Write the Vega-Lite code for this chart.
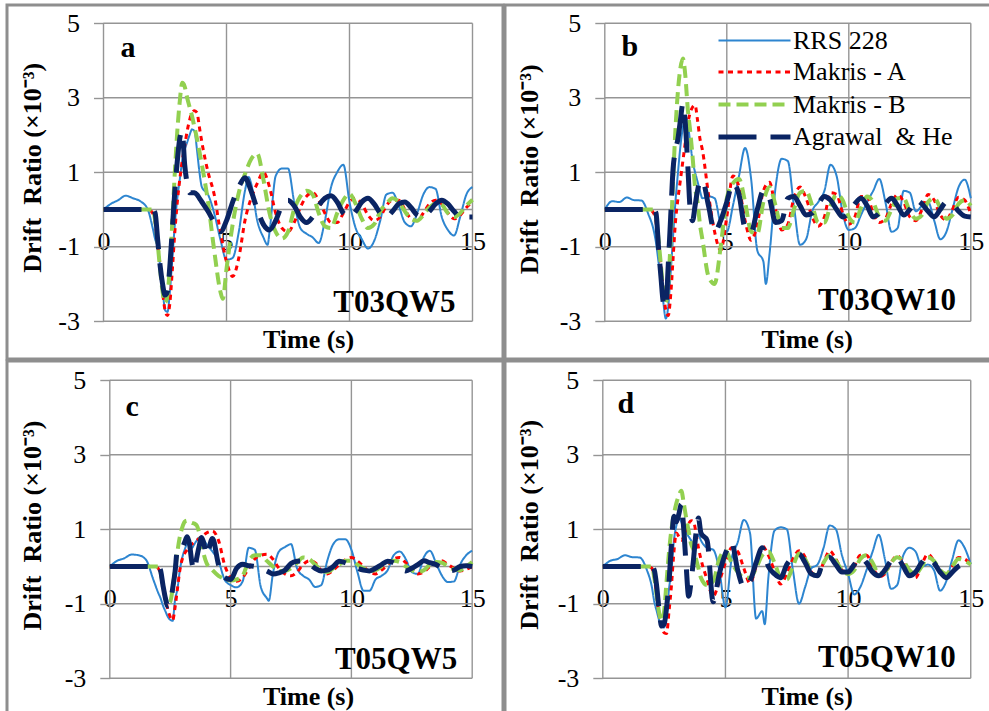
{
"$schema":"https://vega.github.io/schema/vega-lite/v6.json",
"background":"#ffffff",
"padding":{"left":5,"top":3,"right":0,"bottom":0},
"autosize":{"type":"pad"},
"columns":2,
"align":"each",
"spacing":-3,
"config":{
"view":{"stroke":null},
"axis":{"labelFont":"Liberation Serif, Times New Roman, serif","labelFontSize":26,"labelColor":"#000","titleFont":"Liberation Serif, Times New Roman, serif","titleFontSize":26,"titleFontWeight":"bold","titleColor":"#000","grid":false,"domain":false},
"axisX":{"ticks":false,"tickSize":0,"labelBaseline":"middle","labelPadding":32.5,"labelFlush":false,"labelOverlap":false,"titleAlign":"center","titleBaseline":"alphabetic","titleAngle":0},
"axisY":{"ticks":true,"tickSize":10,"tickColor":"#959595","tickWidth":1.4,"labelPadding":14,"labelBaseline":"middle","labelAlign":"right","labelOverlap":false,"titleAngle":-90,"titleAlign":"center","titleBaseline":"middle"}
},
"datasets":{
"a":[
{"t":0,"R":0,"A":0,"B":0,"G":0},{"t":0.3,"R":0.15,"A":0,"B":0,"G":0},{"t":0.6,"R":0.25,"A":0,"B":0,"G":0},{"t":0.9,"R":0.37,"A":0,"B":0,"G":0},{"t":1.2,"R":0.3,"A":0,"B":0,"G":0},{"t":1.5,"R":0.22,"A":0,"B":0,"G":0},{"t":1.8,"R":0,"A":0,"B":0,"G":0},
{"t":2,"R":-0.5,"A":-0.1,"B":0,"G":0},{"t":2.1,"R":-0.8,"A":-0.35,"B":-0.3,"G":-0.1},{"t":2.2,"R":-1,"A":-0.9,"B":-0.9,"G":-0.8},{"t":2.3,"R":-1.5,"A":-1.5,"B":-1.6,"G":-1.5},{"t":2.4,"R":-2.1,"A":-2.2,"B":-2.2,"G":-2},{"t":2.5,"R":-2.7,"A":-2.7,"B":-2.5,"G":-2.3},{"t":2.6,"R":-2.75,"A":-2.85,"B":-2.3,"G":-2.2},{"t":2.7,"R":-2.2,"A":-2.5,"B":-1.5,"G":-1.5},{"t":2.8,"R":-1.3,"A":-1.6,"B":-0.3,"G":-0.5},{"t":2.9,"R":-0.4,"A":-0.6,"B":1,"G":0.5},
{"t":3,"R":0.3,"A":0.2,"B":2.1,"G":1.3},{"t":3.1,"R":0.8,"A":0.8,"B":2.9,"G":1.9},{"t":3.2,"R":1.3,"A":1.3,"B":3.4,"G":2.1},{"t":3.3,"R":1.6,"A":1.7,"B":3.3,"G":1.2},{"t":3.4,"R":1.8,"A":2.1,"B":3,"G":0.7},{"t":3.5,"R":2,"A":2.4,"B":2.75,"G":0.45},{"t":3.6,"R":2.15,"A":2.6,"B":2.5,"G":0.45},{"t":3.7,"R":2.1,"A":2.65,"B":2.2,"G":0.45},{"t":3.8,"R":1.6,"A":2.6,"B":1.9,"G":0.4},{"t":3.9,"R":1,"A":2.2,"B":1.55,"G":0.3},
{"t":4,"R":0.6,"A":1.8,"B":1.2,"G":0.2},{"t":4.25,"R":0.4,"A":1,"B":0.2,"G":-0.05},{"t":4.5,"R":-0.1,"A":0.4,"B":-1.1,"G":-0.35},{"t":4.75,"R":-0.8,"A":-0.6,"B":-2.2,"G":-0.6},{"t":4.85,"B":-2.4},{"t":5,"R":-1.35,"A":-1.4,"B":-1.6,"G":-0.3},{"t":5.25,"R":-1.3,"A":-1.8,"B":-0.4,"G":0.2},{"t":5.5,"R":-0.6,"A":-1.3,"B":0.45,"G":0.6},{"t":5.75,"R":0.5,"A":-0.3,"B":0.95,"G":0.85},{"t":5.9,"R":0.87},
{"t":6,"R":0.7,"A":0.3,"B":1.35,"G":0.5},{"t":6.25,"R":-0.3,"A":0.7,"B":1.5,"G":0},{"t":6.5,"R":-0.75,"A":1,"B":0.8,"G":-0.4},{"t":6.67,"R":-0.95},{"t":6.75,"R":-0.6,"A":0.6,"B":-0.1,"G":-0.55},{"t":7,"R":0.9,"A":-0.1,"B":-0.6,"G":-0.3},{"t":7.25,"R":1.1,"A":-0.5,"B":-0.78,"G":0.1},{"t":7.5,"R":1.1,"A":-0.6,"B":-0.6,"G":0.25},{"t":7.75,"R":0.2,"A":-0.35,"B":0,"G":0.1},
{"t":8,"R":-0.5,"A":0.05,"B":0.35,"G":-0.2},{"t":8.25,"R":-0.65,"A":0.35,"B":0.5,"G":-0.35},{"t":8.5,"R":-0.75,"A":0.45,"B":0.4,"G":-0.2},{"t":8.75,"R":-0.9,"A":0.25,"B":-0.1,"G":0.1},{"t":9,"R":-0.3,"A":-0.1,"B":-0.45,"G":0.3},{"t":9.25,"R":0.6,"A":-0.35,"B":-0.5,"G":0.37},{"t":9.5,"R":1,"A":-0.35,"B":-0.1,"G":0.2},{"t":9.75,"R":1.2,"A":-0.1,"B":0.25,"G":-0.1},
{"t":10,"R":0.2,"A":0.2,"B":0.42,"G":-0.2},{"t":10.25,"R":-0.5,"A":0.3,"B":0.15,"G":-0.05},{"t":10.5,"R":-0.8,"A":0.15,"B":-0.25,"G":0.2},{"t":10.75,"R":-1.05,"A":-0.15,"B":-0.5,"G":0.3},{"t":11,"R":-0.85,"A":-0.3,"B":-0.4,"G":0.15},{"t":11.25,"R":-0.3,"A":-0.2,"B":-0.05,"G":-0.1},{"t":11.5,"R":0.4,"A":0.1,"B":0.15,"G":-0.2},{"t":11.75,"R":0.45,"A":0.25,"B":0.3,"G":-0.05},
{"t":12,"R":0.1,"A":0.25,"B":0.2,"G":0.15},{"t":12.25,"R":-0.35,"A":0,"B":-0.05,"G":0.2},{"t":12.5,"R":-0.45,"A":-0.25,"B":-0.25,"G":0.05},{"t":12.75,"R":-0.1,"A":-0.3,"B":-0.3,"G":-0.15},{"t":13,"R":0.4,"A":-0.1,"B":-0.15,"G":-0.2},{"t":13.25,"R":0.6,"A":0.15,"B":0.05,"G":-0.05},{"t":13.5,"R":0.55,"A":0.25,"B":0.15,"G":0.15},{"t":13.75,"R":-0.2,"A":0.15,"B":0.12,"G":0.25},
{"t":14,"R":-0.55,"A":-0.1,"B":-0.1,"G":0.15},{"t":14.25,"R":-0.7,"A":-0.25,"B":-0.2,"G":-0.05},{"t":14.5,"R":-0.2,"A":-0.15,"B":-0.1,"G":-0.2},{"t":14.75,"R":0.4,"A":0.05,"B":0.1,"G":-0.2},{"t":15,"R":0.6,"A":0.2,"B":0.26,"G":-0.2}
],
"b":[
{"t":0,"R":0,"A":0,"B":0,"G":0},{"t":0.3,"R":0.22,"A":0,"B":0,"G":0},{"t":0.6,"R":0.2,"A":0,"B":0,"G":0},{"t":0.9,"R":0.32,"A":0,"B":0,"G":0},{"t":1.2,"R":0.25,"A":0,"B":0,"G":0},{"t":1.5,"R":0.24,"A":0,"B":0,"G":0},{"t":1.8,"R":-0.15,"A":0,"B":0,"G":0},
{"t":2,"R":-0.55,"A":-0.1,"B":0,"G":0},{"t":2.1,"R":-0.9,"A":-0.35,"B":-0.2,"G":-0.1},{"t":2.2,"R":-1.4,"A":-0.9,"B":-0.8,"G":-1},{"t":2.3,"R":-1.9,"A":-1.5,"B":-1.5,"G":-1.8},{"t":2.4,"R":-2.5,"A":-2.2,"B":-2.2,"G":-2.5},{"t":2.5,"R":-2.93,"A":-2.7,"B":-2.5,"G":-2.62},{"t":2.6,"R":-2.6,"A":-2.85,"B":-2,"G":-1.5},{"t":2.7,"R":-1.7,"A":-2.3,"B":-0.8,"G":-0.2},{"t":2.8,"R":-0.7,"A":-1.3,"B":0.8,"G":1.1},{"t":2.9,"R":0.24,"A":-0.3,"B":2.2,"G":1.6},
{"t":3,"R":1,"A":0.3,"B":3.2,"G":1.9},{"t":3.1,"R":1.7,"A":0.8,"B":3.8,"G":2.4},{"t":3.2,"R":2.2,"A":1.3,"B":4.05,"G":2.84},{"t":3.3,"R":2.5,"A":1.8,"B":3.6,"G":2.3},{"t":3.4,"R":2.3,"A":2.3,"B":2.7,"G":1.2},{"t":3.5,"R":1.8,"A":2.6,"B":2.1,"G":0},{"t":3.6,"R":1.3,"A":2.75,"B":1.4,"G":-0.3},{"t":3.7,"R":1,"A":2.8,"B":0.6,"G":0.1},{"t":3.8,"R":0.75,"A":2.4,"B":0.2,"G":0.5},{"t":3.9,"R":0.5,"A":1.9,"B":-0.4,"G":0.75},
{"t":4,"R":0.3,"A":1.6,"B":-0.8,"G":0.78},{"t":4.25,"R":0.35,"A":0.4,"B":-1.8,"G":0.1},{"t":4.5,"R":0.3,"A":-0.6,"B":-2,"G":-0.6},{"t":4.75,"R":-0.4,"A":-1.1,"B":-1,"G":-0.3},{"t":5,"R":-0.6,"A":-0.2,"B":0.3,"G":0.2},{"t":5.25,"R":0.1,"A":0.9,"B":0.7,"G":0.7},{"t":5.5,"R":0.9,"A":0.6,"B":0.82,"G":0.4},{"t":5.75,"R":1.65,"A":-0.3,"B":0.2,"G":-0.5},
{"t":6,"R":0.8,"A":-0.83,"B":-0.6,"G":-0.6},{"t":6.25,"R":-1.1,"A":-0.4,"B":-0.65,"G":0},{"t":6.5,"R":-1.4,"A":0.5,"B":0.2,"G":0.5},{"t":6.6,"R":-2},{"t":6.75,"R":-1.2,"A":0.73,"B":0.6,"G":0.3},{"t":7,"R":0.6,"A":0,"B":0.1,"G":-0.35},{"t":7.25,"R":1.36,"A":-0.55,"B":-0.5,"G":-0.3},{"t":7.5,"R":1.3,"A":-0.4,"B":-0.5,"G":0.3},{"t":7.75,"R":0.1,"A":0.3,"B":0,"G":0.35},
{"t":8,"R":-0.95,"A":0.6,"B":0.45,"G":0.1},{"t":8.25,"R":-0.8,"A":0.3,"B":0.5,"G":-0.15},{"t":8.5,"R":-0.05,"A":-0.2,"B":0.1,"G":-0.1},{"t":8.75,"R":0.2,"A":-0.45,"B":-0.35,"G":0.15},{"t":9,"R":0.5,"A":-0.2,"B":-0.35,"G":0.35},{"t":9.25,"R":1.2,"A":0.45,"B":0.1,"G":0.25},{"t":9.5,"R":0.9,"A":0.4,"B":0.4,"G":0},{"t":9.75,"R":-0.1,"A":-0.1,"B":0.25,"G":-0.2},
{"t":10,"R":-0.55,"A":-0.4,"B":-0.2,"G":-0.1},{"t":10.25,"R":-0.5,"A":-0.2,"B":-0.35,"G":0.15},{"t":10.5,"R":-0.15,"A":0.35,"B":0.05,"G":0.3},{"t":10.75,"R":0.2,"A":0.35,"B":0.35,"G":0.1},{"t":11,"R":0.5,"A":-0.1,"B":0.2,"G":-0.2},{"t":11.25,"R":0.82,"A":-0.35,"B":-0.2,"G":-0.1},{"t":11.5,"R":0.2,"A":-0.25,"B":-0.3,"G":0.15},{"t":11.75,"R":-0.6,"A":0.15,"B":0,"G":0.3},
{"t":12,"R":-0.5,"A":0.4,"B":0.3,"G":0.1},{"t":12.25,"R":0.5,"A":0.2,"B":0.3,"G":-0.15},{"t":12.5,"R":0.45,"A":-0.2,"B":-0.05,"G":0},{"t":12.75,"R":-0.05,"A":-0.3,"B":-0.25,"G":0.25},{"t":13,"R":0.1,"A":0,"B":-0.15,"G":0.15},{"t":13.25,"R":0.2,"A":0.4,"B":0.2,"G":-0.05},{"t":13.5,"R":-0.3,"A":0.25,"B":0.3,"G":-0.2},{"t":13.75,"R":-0.8,"A":-0.15,"B":0.05,"G":0},
{"t":14,"R":-0.6,"A":-0.28,"B":-0.25,"G":0.2},{"t":14.25,"R":0,"A":0,"B":-0.15,"G":0.15},{"t":14.5,"R":0.6,"A":0.33,"B":0.15,"G":-0.05},{"t":14.75,"R":0.8,"A":0.25,"B":0.25,"G":-0.18},{"t":15,"R":0.3,"A":-0.12,"B":0.1,"G":-0.2}
],
"c":[
{"t":0,"R":0,"A":0,"B":0,"G":0},{"t":0.3,"R":0.15,"A":0,"B":0,"G":0},{"t":0.6,"R":0.22,"A":0,"B":0,"G":0},{"t":0.9,"R":0.32,"A":0,"B":0,"G":0},{"t":1.2,"R":0.3,"A":0,"B":0,"G":0},{"t":1.5,"R":0.18,"A":0,"B":0,"G":0},{"t":1.8,"R":-0.35,"A":0,"B":0,"G":0},
{"t":2,"R":-0.7,"A":-0.05,"B":0,"G":0},{"t":2.1,"R":-0.85,"A":-0.2,"B":-0.15,"G":-0.1},{"t":2.2,"R":-1.05,"A":-0.5,"B":-0.5,"G":-0.5},{"t":2.3,"R":-1.2,"A":-0.85,"B":-0.85,"G":-0.85},{"t":2.4,"R":-1.35,"A":-1.15,"B":-1,"G":-1.06},{"t":2.5,"R":-1.43,"A":-1.35,"B":-0.95,"G":-1},{"t":2.6,"R":-1.46,"A":-1.45,"B":-0.6,"G":-0.6},{"t":2.7,"R":-0.9,"A":-1.1,"B":-0.1,"G":-0.15},{"t":2.8,"R":-0.6,"A":-0.6,"B":0.4,"G":0.45},{"t":2.9,"R":-0.1,"A":-0.1,"B":0.8,"G":0.45},
{"t":3,"R":0.24,"A":0.2,"B":1.05,"G":0.5},{"t":3.1,"R":0.45,"A":0.35,"B":1.2,"G":0.65},{"t":3.2,"R":0.6,"A":0.45,"B":1.23,"G":0.8},{"t":3.3,"R":0.55,"A":0.55,"B":1.2,"G":0.6},{"t":3.4,"R":0.5,"A":0.6,"B":1.17,"G":0.1},{"t":3.5,"R":0.6,"A":0.65,"B":1.15,"G":-0.1},{"t":3.6,"R":0.7,"A":0.7,"B":1.1,"G":0.24},{"t":3.7,"R":0.78,"A":0.75,"B":0.9,"G":0.55},{"t":3.8,"R":0.75,"A":0.8,"B":0.6,"G":0.78},{"t":3.9,"R":0.7,"A":0.85,"B":0.3,"G":0.6},
{"t":4,"R":0.6,"A":0.9,"B":0.1,"G":0.3},{"t":4.25,"R":0.4,"A":0.95,"B":-0.1,"G":0.75},{"t":4.5,"R":0.15,"A":0.7,"B":-0.25,"G":0.05},{"t":4.75,"R":-0.35,"A":0.05,"B":-0.33,"G":-0.3},{"t":5,"R":-0.5,"A":-0.3,"B":-0.38,"G":-0.35},{"t":5.25,"R":-0.56,"A":-0.4,"B":-0.35,"G":-0.05},{"t":5.5,"R":-0.4,"A":-0.3,"B":-0.25,"G":0.06},{"t":5.75,"R":0.5,"A":-0.05,"B":0.15,"G":0.02},
{"t":6,"R":0.45,"A":0.2,"B":0.3,"G":0},{"t":6.25,"R":-0.55,"A":0.3,"B":0.3,"G":-0.05},{"t":6.5,"R":-0.85,"A":0.33,"B":0.15,"G":-0.12},{"t":6.58,"R":-0.92},{"t":6.75,"R":-0.2,"A":0.2,"B":0,"G":-0.2},{"t":7,"R":0.4,"A":-0.05,"B":-0.12,"G":-0.17},{"t":7.25,"R":0.52,"A":-0.2,"B":-0.12,"G":-0.1},{"t":7.5,"R":0.6,"A":-0.25,"B":-0.05,"G":0.08},{"t":7.75,"R":-0.05,"A":-0.15,"B":0.1,"G":0.14},
{"t":8,"R":-0.25,"A":0.05,"B":0.24,"G":0.15},{"t":8.25,"R":-0.35,"A":0.15,"B":0.2,"G":0.08},{"t":8.5,"R":-0.55,"A":0.1,"B":0.05,"G":-0.05},{"t":8.75,"R":-0.5,"A":-0.1,"B":-0.1,"G":-0.12},{"t":9,"R":0.15,"A":-0.2,"B":-0.15,"G":-0.1},{"t":9.25,"R":0.6,"A":-0.1,"B":-0.05,"G":0},{"t":9.5,"R":0.73,"A":0.05,"B":0.05,"G":0.14},{"t":9.75,"R":0.73,"A":0.18,"B":0.15,"G":0.1},
{"t":10,"R":0.45,"A":0.24,"B":0.15,"G":0.02},{"t":10.25,"R":-0.15,"A":0.15,"B":0.05,"G":-0.05},{"t":10.5,"R":-0.65,"A":0,"B":-0.05,"G":-0.1},{"t":10.75,"R":-0.65,"A":-0.15,"B":-0.12,"G":-0.12},{"t":11,"R":-0.35,"A":-0.2,"B":-0.1,"G":-0.05},{"t":11.25,"R":-0.25,"A":-0.1,"B":0,"G":0.05},{"t":11.5,"R":-0.1,"A":0.05,"B":0.1,"G":0.14},{"t":11.75,"R":0.3,"A":0.2,"B":0.15,"G":0.1},
{"t":12,"R":0.4,"A":0.24,"B":0.12,"G":-0.02},{"t":12.25,"R":0.2,"A":0.1,"B":0,"G":-0.12},{"t":12.5,"R":-0.15,"A":-0.05,"B":-0.1,"G":-0.05},{"t":12.75,"R":-0.2,"A":-0.2,"B":-0.15,"G":0.05},{"t":13,"R":0.25,"A":-0.15,"B":-0.1,"G":0.15},{"t":13.25,"R":0.42,"A":0,"B":0.05,"G":0.1},{"t":13.5,"R":0.1,"A":0.1,"B":0.12,"G":0.05},{"t":13.75,"R":-0.25,"A":0.15,"B":0.1,"G":-0.05},
{"t":14,"R":-0.42,"A":0.05,"B":0,"G":-0.12},{"t":14.25,"R":-0.4,"A":-0.05,"B":-0.08,"G":-0.1},{"t":14.5,"R":0.05,"A":-0.12,"B":-0.1,"G":0},{"t":14.75,"R":0.3,"A":-0.08,"B":0,"G":0.02},{"t":15,"R":0.42,"A":0,"B":0.12,"G":0}
],
"d":[
{"t":0,"R":0,"A":0,"B":0,"G":0},{"t":0.3,"R":0.15,"A":0,"B":0,"G":0},{"t":0.6,"R":0.2,"A":0,"B":0,"G":0},{"t":0.9,"R":0.3,"A":0,"B":0,"G":0},{"t":1.2,"R":0.25,"A":0,"B":0,"G":0},{"t":1.5,"R":0.24,"A":0,"B":0,"G":0},{"t":1.8,"R":-0.1,"A":0,"B":0,"G":0},
{"t":2,"R":-0.55,"A":-0.05,"B":0,"G":0},{"t":2.1,"R":-0.95,"A":-0.3,"B":-0.3,"G":-0.1},{"t":2.2,"R":-1.2,"A":-0.8,"B":-0.8,"G":-0.55},{"t":2.3,"R":-1.45,"A":-1.3,"B":-1.25,"G":-1.2},{"t":2.4,"R":-1.6,"A":-1.6,"B":-1.46,"G":-1.6},{"t":2.5,"R":-1.64,"A":-1.78,"B":-1.2,"G":-1.55},{"t":2.6,"R":-1.3,"A":-1.8,"B":-0.4,"G":-1.1},{"t":2.7,"R":-0.6,"A":-1.2,"B":0.4,"G":-0.4},{"t":2.8,"R":-0.1,"A":-0.5,"B":1,"G":0.6},{"t":2.9,"R":0.7,"A":0.4,"B":1.4,"G":1.35},
{"t":3,"R":1.1,"A":0.9,"B":1.7,"G":1.2},{"t":3.1,"R":1.3,"A":0.8,"B":1.9,"G":1.4},{"t":3.2,"R":1.2,"A":0.7,"B":2.03,"G":1.67},{"t":3.3,"R":1,"A":0.8,"B":1.7,"G":1},{"t":3.4,"R":0.9,"A":1,"B":1.3,"G":0},{"t":3.5,"R":0.8,"A":1.15,"B":0.95,"G":-0.8},{"t":3.6,"R":0.7,"A":1.23,"B":0.6,"G":-0.4},{"t":3.7,"R":0.6,"A":1.2,"B":0.45,"G":0.2},{"t":3.8,"R":0.7,"A":0.9,"B":0.2,"G":0.9},{"t":3.9,"R":0.85,"A":0.5,"B":-0.05,"G":1.3},
{"t":4,"R":0.7,"A":0.2,"B":-0.3,"G":0.9},{"t":4.25,"R":0.5,"A":-0.35,"B":-0.5,"G":0.7},{"t":4.5,"R":0.45,"A":-0.8,"B":-0.4,"G":-0.95},{"t":4.75,"R":-0.1,"A":-0.4,"B":0.2,"G":-0.2},{"t":5,"R":-1.1,"A":0.1,"B":0.42,"G":0.35},{"t":5.25,"R":0.2,"A":0.5,"B":0.1,"G":0.65},{"t":5.5,"R":0.65,"A":0.4,"B":-0.15,"G":-0.1},{"t":5.75,"R":1.25,"A":-0.05,"B":-0.3,"G":-0.55},
{"t":6,"R":0.9,"A":-0.45,"B":-0.3,"G":-0.4},{"t":6.25,"R":-1.4,"A":0,"B":-0.05,"G":0.1},{"t":6.5,"R":-1.2,"A":0.55,"B":0.3,"G":0.5},{"t":6.6,"R":-1.55},{"t":6.75,"R":-0.3,"A":0.3,"B":0.4,"G":0},{"t":7,"R":0.96,"A":-0.12,"B":0.1,"G":-0.2},{"t":7.25,"R":1.05,"A":-0.47,"B":-0.3,"G":-0.3},{"t":7.5,"R":1,"A":-0.2,"B":-0.35,"G":0.05},{"t":7.75,"R":-0.1,"A":0.2,"B":0,"G":0.25},
{"t":8,"R":-1,"A":0.42,"B":0.35,"G":0.33},{"t":8.25,"R":-0.55,"A":0.25,"B":0.2,"G":0.1},{"t":8.5,"R":-0.05,"A":-0.15,"B":-0.15,"G":-0.2},{"t":8.75,"R":0.05,"A":-0.25,"B":-0.25,"G":-0.25},{"t":9,"R":0.5,"A":0.1,"B":0.1,"G":0.15},{"t":9.25,"R":1.1,"A":0.42,"B":0.3,"G":0.24},{"t":9.5,"R":1,"A":0.2,"B":0.15,"G":0.05},{"t":9.75,"R":0.3,"A":-0.1,"B":-0.1,"G":-0.15},
{"t":10,"R":-0.2,"A":-0.2,"B":-0.2,"G":-0.15},{"t":10.25,"R":-0.75,"A":0,"B":-0.1,"G":0.05},{"t":10.5,"R":-0.55,"A":0.3,"B":0.2,"G":0.24},{"t":10.75,"R":-0.1,"A":0.3,"B":0.3,"G":0.1},{"t":11,"R":0.4,"A":0,"B":0.1,"G":-0.15},{"t":11.25,"R":0.85,"A":-0.28,"B":-0.2,"G":-0.25},{"t":11.5,"R":0.2,"A":-0.2,"B":-0.15,"G":-0.1},{"t":11.75,"R":-0.6,"A":0.1,"B":0.1,"G":0.15},
{"t":12,"R":-0.5,"A":0.29,"B":0.25,"G":0.24},{"t":12.25,"R":0.3,"A":0.1,"B":0.15,"G":0},{"t":12.5,"R":0.5,"A":-0.2,"B":-0.1,"G":-0.25},{"t":12.75,"R":0.4,"A":-0.3,"B":-0.2,"G":-0.15},{"t":13,"R":0,"A":0.05,"B":0,"G":0.1},{"t":13.25,"R":0.05,"A":0.33,"B":0.25,"G":0.24},{"t":13.5,"R":-0.1,"A":0.15,"B":0.15,"G":0.1},{"t":13.75,"R":-0.65,"A":-0.15,"B":-0.1,"G":-0.15},
{"t":14,"R":-0.4,"A":-0.25,"B":-0.2,"G":-0.3},{"t":14.25,"R":0.2,"A":0,"B":0,"G":-0.15},{"t":14.5,"R":0.7,"A":0.24,"B":0.2,"G":0},{"t":14.75,"R":0.5,"A":0.2,"B":0.15,"G":0.05},{"t":15,"R":0.06,"A":0.06,"B":0.05,"G":0.02}
]
},
"concat":[
{"width":496,"height":354,"view":{"fill":"#ffffff","stroke":"#8e8e8e","strokeWidth":3},
"layer":[
{"data":{"values":[{"g":-3},{"g":-1},{"g":0},{"g":1},{"g":3},{"g":5}]},"mark":{"type":"rule","color":"#959595","strokeWidth":1.4},"encoding":{"y":{"field":"g","type":"quantitative"},"x":{"datum":0},"x2":{"datum":15}}},
{"data":{"values":[{"g":0},{"g":5},{"g":10},{"g":15}]},"mark":{"type":"rule","color":"#959595","strokeWidth":1.4},"encoding":{"x":{"field":"g","type":"quantitative"},"y":{"datum":-3},"y2":{"datum":5}}},
{"data":{"name":"a"},"transform":[{"fold":["R","A","B","G"],"as":["s","v"]},{"filter":"isValid(datum.v)"}],
"mark":{"type":"line","interpolate":"monotone","strokeCap":"butt"},
"encoding":{
"x":{"field":"t","type":"quantitative","scale":{"domain":[-3.923,16.24],"nice":false,"zero":false},"axis":{"values":[0,5,10,15],"offset":-149.55,"labelExpr":"''+datum.value","title":"Time (s)","titleX":301,"titleY":137.75}},
"y":{"field":"v","type":"quantitative","scale":{"domain":[-4.015,5.489],"nice":false,"zero":false},"axis":{"values":[-3,-1,1,3,5],"offset":-96.5,"labelExpr":"''+datum.value","title":"Drift\u00a0 Ratio (×10⁻³)","titleX":-71,"titleY":162.2}},
"color":{"field":"s","type":"nominal","scale":{"domain":["R","A","B","G"],"range":["#2D85D0","#FF0000","#92D050","#0A2463"]},"legend":{"orient":"none","legendX":733,"legendY":22.5,"title":null,"symbolType":"M-3,0H3","symbolSize":576,"labelFont":"Liberation Serif, Times New Roman, serif","labelFontSize":26,"labelColor":"#000","labelOffset":24,"rowPadding":5,"labelLimit":0,"padding":0,"labelExpr":"{'R':'RRS 228','A':'Makris - A','B':'Makris - B','G':'Agrawal\u00a0 & He'}[datum.label]"}},
"strokeDash":{"field":"s","type":"nominal","scale":{"domain":["R","A","B","G"],"range":[[1,0],[5,4.5],[12,6],[38,14]]}},
"strokeWidth":{"field":"s","type":"nominal","scale":{"domain":["R","A","B","G"],"range":[2,5,5,6]}}
}},
{"data":{"values":[{}]},"mark":{"type":"text","font":"Liberation Serif, Times New Roman, serif","fontWeight":"bold","fontSize":30,"align":"left","baseline":"alphabetic","color":"#000"},"encoding":{"x":{"datum":0.69},"y":{"datum":4.08},"text":{"value":"a"}}},
{"data":{"values":[{}]},"mark":{"type":"text","font":"Liberation Serif, Times New Roman, serif","fontWeight":"bold","fontSize":31,"align":"right","baseline":"alphabetic","color":"#000"},"encoding":{"x":{"datum":14.31},"y":{"datum":-2.76},"text":{"value":"T03QW5"}}}
]},
{"width":485,"height":354,"view":{"fill":"#ffffff","stroke":"#8e8e8e","strokeWidth":3,"strokeDash":[485,354,839]},
"layer":[
{"data":{"values":[{"g":-3},{"g":-1},{"g":0},{"g":1},{"g":3},{"g":5}]},"mark":{"type":"rule","color":"#959595","strokeWidth":1.4},"encoding":{"y":{"field":"g","type":"quantitative"},"x":{"datum":0},"x2":{"datum":15}}},
{"data":{"values":[{"g":0},{"g":5},{"g":10},{"g":15}]},"mark":{"type":"rule","color":"#959595","strokeWidth":1.4},"encoding":{"x":{"field":"g","type":"quantitative"},"y":{"datum":-3},"y2":{"datum":5}}},
{"data":{"name":"b"},"transform":[{"fold":["R","A","B","G"],"as":["s","v"]},{"filter":"isValid(datum.v)"}],
"mark":{"type":"line","interpolate":"monotone","strokeCap":"butt"},
"encoding":{
"x":{"field":"t","type":"quantitative","scale":{"domain":[-4.09,15.787],"nice":false,"zero":false},"axis":{"values":[0,5,10,15],"offset":-149.55,"labelExpr":"''+datum.value","title":"Time (s)","titleX":301.7,"titleY":137.75}},
"y":{"field":"v","type":"quantitative","scale":{"domain":[-4.015,5.489],"nice":false,"zero":false},"axis":{"values":[-3,-1,1,3,5],"offset":-99.8,"labelExpr":"''+datum.value","title":"Drift\u00a0 Ratio (×10⁻³)","titleX":-75.6,"titleY":163.8}},
"color":{"field":"s","type":"nominal","scale":{"domain":["R","A","B","G"],"range":["#2D85D0","#FF0000","#92D050","#0A2463"]},"legend":{"orient":"none","legendX":733,"legendY":22.5,"title":null,"symbolType":"M-3,0H3","symbolSize":576,"labelFont":"Liberation Serif, Times New Roman, serif","labelFontSize":26,"labelColor":"#000","labelOffset":24,"rowPadding":5,"labelLimit":0,"padding":0,"labelExpr":"{'R':'RRS 228','A':'Makris - A','B':'Makris - B','G':'Agrawal\u00a0 & He'}[datum.label]"}},
"strokeDash":{"field":"s","type":"nominal","scale":{"domain":["R","A","B","G"],"range":[[1,0],[5,4.5],[12,6],[38,14]]}},
"strokeWidth":{"field":"s","type":"nominal","scale":{"domain":["R","A","B","G"],"range":[2,5,5,6]}}
}},
{"data":{"values":[{}]},"mark":{"type":"text","font":"Liberation Serif, Times New Roman, serif","fontWeight":"bold","fontSize":30,"align":"left","baseline":"alphabetic","color":"#000"},"encoding":{"x":{"datum":0.68},"y":{"datum":4.13},"text":{"value":"b"}}},
{"data":{"values":[{}]},"mark":{"type":"text","font":"Liberation Serif, Times New Roman, serif","fontWeight":"bold","fontSize":31,"align":"right","baseline":"alphabetic","color":"#000"},"encoding":{"x":{"datum":14.39},"y":{"datum":-2.71},"text":{"value":"T03QW10"}}}
]},
{"width":496,"height":351,"view":{"fill":"#ffffff","stroke":"#8e8e8e","strokeWidth":3,"strokeDash":[847,496,351]},
"layer":[
{"data":{"values":[{"g":-3},{"g":-1},{"g":0},{"g":1},{"g":3},{"g":5}]},"mark":{"type":"rule","color":"#959595","strokeWidth":1.4},"encoding":{"y":{"field":"g","type":"quantitative"},"x":{"datum":0},"x2":{"datum":15}}},
{"data":{"values":[{"g":0},{"g":5},{"g":10},{"g":15}]},"mark":{"type":"rule","color":"#959595","strokeWidth":1.4},"encoding":{"x":{"field":"g","type":"quantitative"},"y":{"datum":-3},"y2":{"datum":5}}},
{"data":{"name":"c"},"transform":[{"fold":["R","A","B","G"],"as":["s","v"]},{"filter":"isValid(datum.v)"}],
"mark":{"type":"line","interpolate":"monotone","strokeCap":"butt"},
"encoding":{
"x":{"field":"t","type":"quantitative","scale":{"domain":[-4.255,16.275],"nice":false,"zero":false},"axis":{"values":[0,5,10,15],"offset":-145.55,"labelExpr":"''+datum.value","title":"Time (s)","titleX":301,"titleY":137.75}},
"y":{"field":"v","type":"quantitative","scale":{"domain":[-3.907,5.515],"nice":false,"zero":false},"axis":{"values":[-3,-1,1,3,5],"offset":-102.8,"labelExpr":"''+datum.value","title":"Drift\u00a0 Ratio (×10⁻³)","titleX":-77.6,"titleY":164}},
"color":{"field":"s","type":"nominal","scale":{"domain":["R","A","B","G"],"range":["#2D85D0","#FF0000","#92D050","#0A2463"]},"legend":{"orient":"none","legendX":733,"legendY":22.5,"title":null,"symbolType":"M-3,0H3","symbolSize":576,"labelFont":"Liberation Serif, Times New Roman, serif","labelFontSize":26,"labelColor":"#000","labelOffset":24,"rowPadding":5,"labelLimit":0,"padding":0,"labelExpr":"{'R':'RRS 228','A':'Makris - A','B':'Makris - B','G':'Agrawal\u00a0 & He'}[datum.label]"}},
"strokeDash":{"field":"s","type":"nominal","scale":{"domain":["R","A","B","G"],"range":[[1,0],[5,4.5],[12,6],[38,14]]}},
"strokeWidth":{"field":"s","type":"nominal","scale":{"domain":["R","A","B","G"],"range":[2,5,5,6]}}
}},
{"data":{"values":[{}]},"mark":{"type":"text","font":"Liberation Serif, Times New Roman, serif","fontWeight":"bold","fontSize":30,"align":"left","baseline":"alphabetic","color":"#000"},"encoding":{"x":{"datum":0.65},"y":{"datum":4.04},"text":{"value":"c"}}},
{"data":{"values":[{}]},"mark":{"type":"text","font":"Liberation Serif, Times New Roman, serif","fontWeight":"bold","fontSize":31,"align":"right","baseline":"alphabetic","color":"#000"},"encoding":{"x":{"datum":14.38},"y":{"datum":-2.76},"text":{"value":"T05QW5"}}}
]},
{"width":485,"height":351,"view":{"fill":"#ffffff","stroke":"#8e8e8e","strokeWidth":3,"strokeDash":[485,836,351]},
"layer":[
{"data":{"values":[{"g":-3},{"g":-1},{"g":0},{"g":1},{"g":3},{"g":5}]},"mark":{"type":"rule","color":"#959595","strokeWidth":1.4},"encoding":{"y":{"field":"g","type":"quantitative"},"x":{"datum":0},"x2":{"datum":15}}},
{"data":{"values":[{"g":0},{"g":5},{"g":10},{"g":15}]},"mark":{"type":"rule","color":"#959595","strokeWidth":1.4},"encoding":{"x":{"field":"g","type":"quantitative"},"y":{"datum":-3},"y2":{"datum":5}}},
{"data":{"name":"d"},"transform":[{"fold":["R","A","B","G"],"as":["s","v"]},{"filter":"isValid(datum.v)"}],
"mark":{"type":"line","interpolate":"monotone","strokeCap":"butt"},
"encoding":{
"x":{"field":"t","type":"quantitative","scale":{"domain":[-3.987,15.785],"nice":false,"zero":false},"axis":{"values":[0,5,10,15],"offset":-145.55,"labelExpr":"''+datum.value","title":"Time (s)","titleX":301.7,"titleY":137.75}},
"y":{"field":"v","type":"quantitative","scale":{"domain":[-3.907,5.515],"nice":false,"zero":false},"axis":{"values":[-3,-1,1,3,5],"offset":-97.8,"labelExpr":"''+datum.value","title":"Drift\u00a0 Ratio (×10⁻³)","titleX":-73.6,"titleY":163.2}},
"color":{"field":"s","type":"nominal","scale":{"domain":["R","A","B","G"],"range":["#2D85D0","#FF0000","#92D050","#0A2463"]},"legend":{"orient":"none","legendX":733,"legendY":22.5,"title":null,"symbolType":"M-3,0H3","symbolSize":576,"labelFont":"Liberation Serif, Times New Roman, serif","labelFontSize":26,"labelColor":"#000","labelOffset":24,"rowPadding":5,"labelLimit":0,"padding":0,"labelExpr":"{'R':'RRS 228','A':'Makris - A','B':'Makris - B','G':'Agrawal\u00a0 & He'}[datum.label]"}},
"strokeDash":{"field":"s","type":"nominal","scale":{"domain":["R","A","B","G"],"range":[[1,0],[5,4.5],[12,6],[38,14]]}},
"strokeWidth":{"field":"s","type":"nominal","scale":{"domain":["R","A","B","G"],"range":[2,5,5,6]}}
}},
{"data":{"values":[{}]},"mark":{"type":"text","font":"Liberation Serif, Times New Roman, serif","fontWeight":"bold","fontSize":30,"align":"left","baseline":"alphabetic","color":"#000"},"encoding":{"x":{"datum":0.6},"y":{"datum":4.13},"text":{"value":"d"}}},
{"data":{"values":[{}]},"mark":{"type":"text","font":"Liberation Serif, Times New Roman, serif","fontWeight":"bold","fontSize":31,"align":"right","baseline":"alphabetic","color":"#000"},"encoding":{"x":{"datum":14.39},"y":{"datum":-2.71},"text":{"value":"T05QW10"}}}
]}
]
}
